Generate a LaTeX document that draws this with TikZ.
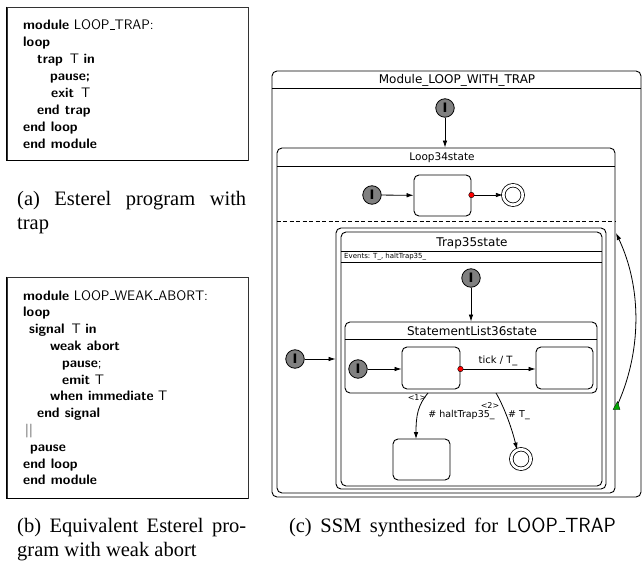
\documentclass[tikz,border=0pt]{standalone}
\usepackage{fontspec}
\usetikzlibrary{arrows.meta,calc}
\newfontfamily\ssmfont{DejaVu Sans}
\newfontfamily\capfont{Liberation Serif}
% short low rule used as the underscore in program text
\newcommand\lowbar{\leavevmode\kern.06em\vbox{\hrule width.3em height 0.8pt}}
\tikzset{
  codeline/.style={anchor=base west, inner sep=0pt, font=\fontsize{13.8}{16}\selectfont\sffamily},
  codeframe/.style={draw=black!80, line width=0.6pt, inner sep=0pt},
  container/.style={draw, rounded corners=5pt, line width=0.9pt, inner sep=0pt},
  simplestate/.style={draw, rounded corners=5pt, line width=0.9pt, fill=white, inner sep=0pt},
  initstate/.style={circle, draw, line width=0.8pt, fill=black!50, minimum size=18.5pt, inner sep=0pt,
    font=\ssmfont\bfseries\fontsize{13}{13}\selectfont},
  finalstate/.style={circle, draw, line width=0.8pt, fill=white, double=white, double distance=2.7pt,
    minimum size=19.5pt, inner sep=0pt},
  trans/.style={-{Latex[length=7pt,width=4.6pt]}, line width=0.8pt},
  abortdot/.style={circle, draw, fill=red, line width=0.4pt, minimum size=5.5pt, inner sep=0pt},
  statetitle/.style={font=\ssmfont\fontsize{12}{14}\selectfont, inner sep=0pt},
  tlabel/.style={font=\ssmfont\fontsize{9.5}{11}\selectfont, inner sep=0pt},
  prio/.style={font=\ssmfont\fontsize{8}{9}\selectfont, inner sep=0pt},
  subcaption/.style={font=\capfont\fontsize{20.5}{24}\selectfont, inner sep=0pt},
}
\begin{document}
\begin{tikzpicture}[x=1pt,y=-1pt]
\useasboundingbox (0,0) rectangle (642,569);

% ---------- (a) Esterel program with trap ----------
\node[codeframe, minimum width=241pt, minimum height=153pt] (boxA) at (127.5,83.5) {};
\draw[line width=1.3pt] (boxA.north west) -- (boxA.south west) -- (boxA.south east);
\node[codeline] (a1) at (23,30.0)  {\textbf{module} LOOP\lowbar TRAP:};
\node[codeline] (a2) at (23,46.9)  {\textbf{loop}};
\node[codeline] (a3) at (37,63.8)  {\textbf{trap}\enspace T \textbf{in}};
\node[codeline] (a4) at (50,80.7)  {\textbf{pause;}};
\node[codeline] (a5) at (51,97.6)  {\textbf{exit}\enspace T};
\node[codeline] (a6) at (37,114.5) {\textbf{end trap}};
\node[codeline] (a7) at (23,131.4) {\textbf{end loop}};
\node[codeline] (a8) at (23,148.3) {\textbf{end module}};

\node[subcaption, anchor=base west, text width=229pt, align=justify] (capA) at (17,206)
  {(a) Esterel program with\linebreak trap};

% ---------- (b) equivalent program with weak abort ----------
\node[codeframe, minimum width=241pt, minimum height=221pt] (boxB) at (127.5,387.5) {};
\draw[line width=1.3pt] (boxB.north west) -- (boxB.south west) -- (boxB.south east);
\node[codeline] (b1)  at (23,300.0) {\textbf{module} LOOP\lowbar WEAK\lowbar ABORT:};
\node[codeline] (b2)  at (23,316.8) {\textbf{loop}};
\node[codeline] (b3)  at (29,333.6) {\textbf{signal}\enspace T \textbf{in}};
\node[codeline] (b4)  at (50,350.4) {\textbf{weak abort}};
\node[codeline] (b5)  at (62,367.2) {\textbf{pause};};
\node[codeline] (b6)  at (62,384.0) {\textbf{emit} T};
\node[codeline] (b7)  at (50,400.8) {\textbf{when immediate} T};
\node[codeline] (b8)  at (37,417.6) {\textbf{end signal}};
\node[codeline] (b9)  at (25,434.4) {||};
\node[codeline] (b10) at (30,451.2) {\textbf{pause}};
\node[codeline] (b11) at (23,468.0) {\textbf{end loop}};
\node[codeline] (b12) at (23,484.8) {\textbf{end module}};

\node[subcaption, anchor=base west, text width=229pt, align=justify] (capB) at (17,532)
  {(b) Equivalent Esterel pro-\linebreak gram with weak abort};

% ---------- (c) synthesized SSM ----------
% module state
\node[container, minimum width=369pt, minimum height=426pt] (mod) at (456.5,284) {};
\draw[line width=0.9pt] (mod.west |- 0,88) -- (mod.east |- 0,88);
\node[statetitle] (modT) at (457,80) {Module\_LOOP\_WITH\_TRAP};
\node[initstate] (I0) at (445,108) {I};

% loop state with two regions
\node[container, fill=white, minimum width=338pt, minimum height=345pt] (loop) at (446,320.5) {};
\draw[line width=0.9pt] (loop.west |- 0,166) -- (loop.east |- 0,166);
\draw[line width=0.8pt, dash pattern=on 4pt off 2.5pt] (loop.west |- 0,221) -- (loop.east |- 0,221);
\node[statetitle, font=\ssmfont\fontsize{10.5}{12}\selectfont] (loopT) at (442,158) {Loop34state};
\draw[trans] (I0) -- (I0 |- loop.north);

% first region
\node[initstate] (I1) at (372,195) {I};
\node[simplestate, minimum width=57pt, minimum height=41pt] (S1) at (442.5,195.5) {};
\node[finalstate] (F1) at (513,195) {};
\draw[trans] (I1) -- (S1);
\draw[trans] (S1.east |- F1) -- (F1);
\node[abortdot] (d1) at (S1.east |- F1) {};

% second region: trap state
\node[container, minimum width=270pt, minimum height=261pt] (trapO) at (471,358.5) {};
\node[container, minimum width=261pt, minimum height=254pt] (trapI) at (471.5,359) {};
\draw[line width=0.9pt] (trapI.west |- 0,251) -- (trapI.east |- 0,251);
\draw[line width=0.9pt] (trapI.west |- 0,262) -- (trapI.east |- 0,262);
\node[statetitle] (trapT) at (472,243) {Trap35state};
\node[font=\ssmfont\fontsize{7}{8}\selectfont, inner sep=0pt, anchor=west] (evT) at (344,256.5)
  {Events: T\_, haltTrap35\_};
\node[initstate] (I2) at (295,359) {I};
\draw[trans] (I2) -- (I2 -| trapO.west);
\node[initstate] (I3) at (471,278) {I};

% statement list inside the trap
\node[container, minimum width=252pt, minimum height=71pt] (sl) at (471,357.5) {};
\draw[line width=0.9pt] (sl.west |- 0,339) -- (sl.east |- 0,339);
\node[statetitle] (slT) at (472,331) {StatementList36state};
\draw[trans] (I3) -- (I3 |- sl.north);
\node[initstate] (I4) at (358,369) {I};
\node[simplestate, minimum width=58pt, minimum height=42pt] (A) at (431,368) {};
\node[simplestate, minimum width=57pt, minimum height=42pt] (B) at (564.5,368) {};
\draw[trans] (I4) -- (I4 -| A.west);
\draw[trans] (A.east |- 0,369) -- node[tlabel, font=\ssmfont\fontsize{10}{11}\selectfont, above=3pt] (tickL) {tick / T\_} (B.west |- 0,369);
\node[abortdot] (d2) at (A.east |- 0,369) {};

% exits from the statement list
\node[simplestate, minimum width=57pt, minimum height=41pt] (C) at (421.5,459.5) {};
\node[finalstate] (F2) at (521,459) {};
\coordinate (t1s) at (428,393);
\coordinate (t1e) at (416,439);
\coordinate (t2s) at (496,393);
\draw[trans] (t1s) .. controls (418,405) and (416,415) .. (t1e);
\draw[trans] (t2s) .. controls (503,405) and (511,425) .. (F2.113);
\node[prio] (p1) at (417,397.5) {<1>};
\node[tlabel] (l1) at (461.5,415) {\# haltTrap35\_};
\node[prio] (p2) at (490,406) {<2>};
\node[tlabel] (l2) at (519,415) {\# T\_};

% normal termination back into the loop
\coordinate (nts) at (616.5,407);
\coordinate (nte) at (616,233);
\draw[trans] (nts) .. controls (642,352) and (642,288) .. (nte);
\fill[green!65!black, draw=black, line width=0.3pt] (613,409.5) -- (620,409.5) -- (617.5,401.5) -- cycle;

\node[subcaption, anchor=base] (capC) at (452.5,532)
  {\spaceskip=0.42em (c) SSM synthesized for {\sffamily LOOP\lowbar TRAP}};
\end{tikzpicture}
\end{document}
